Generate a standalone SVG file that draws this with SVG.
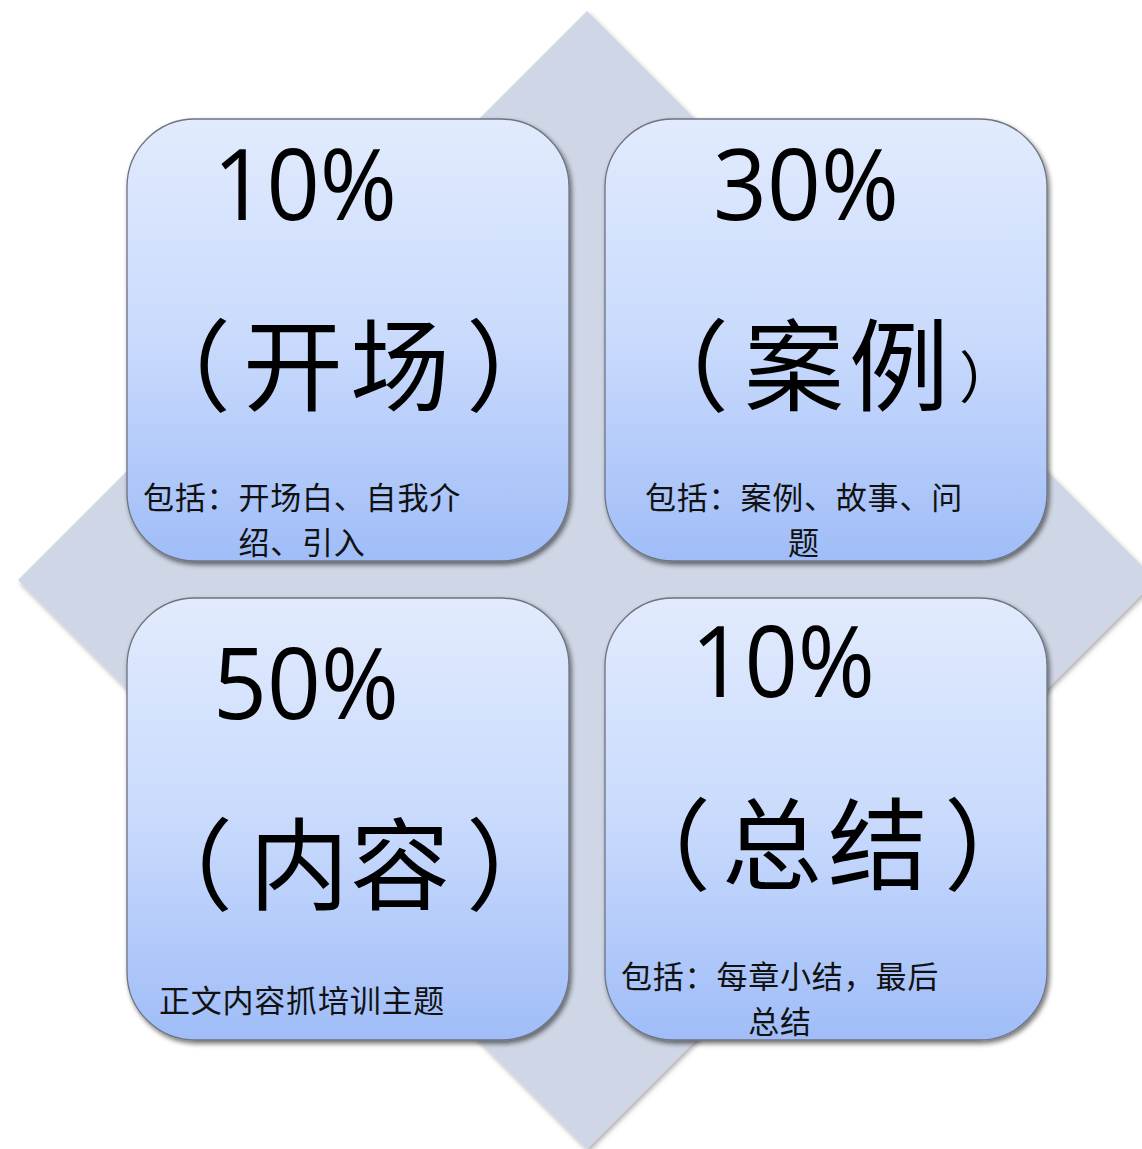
<svg xmlns="http://www.w3.org/2000/svg" width="1142" height="1149" viewBox="0 0 1142 1149">
<defs>
<linearGradient id="boxGrad" x1="0" y1="0" x2="0" y2="1">
<stop offset="0" stop-color="#e2ebfd"/>
<stop offset="0.5" stop-color="#c9dafc"/>
<stop offset="1" stop-color="#a0bdf8"/>
</linearGradient>
<filter id="boxShadow" x="-10%" y="-10%" width="120%" height="120%">
<feGaussianBlur in="SourceAlpha" stdDeviation="2.5"/>
<feOffset dx="2" dy="3" result="b"/>
<feComponentTransfer><feFuncA type="linear" slope="0.55"/></feComponentTransfer>
<feMerge><feMergeNode/><feMergeNode in="SourceGraphic"/></feMerge>
</filter>
<filter id="diaShadow" x="-10%" y="-10%" width="120%" height="120%">
<feGaussianBlur in="SourceAlpha" stdDeviation="2.5"/>
<feOffset dx="2" dy="3" result="b"/>
<feComponentTransfer><feFuncA type="linear" slope="0.3"/></feComponentTransfer>
<feMerge><feMergeNode/><feMergeNode in="SourceGraphic"/></feMerge>
</filter>
</defs>
<style>
.box{fill:url(#boxGrad);stroke:#6e7480;stroke-width:1.3;filter:url(#boxShadow)}
.pct{font-family:"Open Sans","Noto Sans",sans-serif;font-size:98px;fill:#000}
.big{font-family:"Noto Sans CJK SC","Noto Sans CJK JP",sans-serif;font-size:100px;fill:#000}
.small{font-family:"Noto Sans CJK SC","Noto Sans CJK JP",sans-serif;font-size:31px;letter-spacing:0.8px;fill:#111;text-anchor:middle}
</style>
<g id="background">
<polygon points="587,11 1156,580 587,1149 18,580" fill="#cfd6e5" filter="url(#diaShadow)"/>
</g>
<g id="node-opening">
<rect class="box" x="127" y="119" width="442" height="442" rx="68" ry="68"/>
<text class="pct" x="213" y="220" textLength="184" lengthAdjust="spacingAndGlyphs">10%</text>
<text class="big" y="403"><tspan x="131">（</tspan><tspan x="243">开</tspan><tspan x="350">场</tspan><tspan x="466">）</tspan></text>
<text class="small" x="302" y="509">包括：开场白、自我介</text>
<text class="small" x="302" y="554">绍、引入</text>
</g>
<g id="node-cases">
<rect class="box" x="605" y="119" width="442" height="442" rx="68" ry="68"/>
<text class="pct" x="713" y="220" textLength="186" lengthAdjust="spacingAndGlyphs">30%</text>
<text class="big" y="403"><tspan x="629">（</tspan><tspan x="744">案</tspan><tspan x="849">例</tspan><tspan x="959" dy="-5" font-size="56">）</tspan></text>
<text class="small" x="804" y="509">包括：案例、故事、问</text>
<text class="small" x="804" y="554">题</text>
</g>
<g id="node-content">
<rect class="box" x="127" y="598" width="442" height="442" rx="68" ry="68"/>
<text class="pct" x="213" y="719" textLength="186" lengthAdjust="spacingAndGlyphs">50%</text>
<text class="big" y="902"><tspan x="133">（</tspan><tspan x="249">内</tspan><tspan x="350">容</tspan><tspan x="466">）</tspan></text>
<text class="small" x="302" y="1012">正文内容抓培训主题</text>
</g>
<g id="node-summary">
<rect class="box" x="605" y="598" width="442" height="442" rx="68" ry="68"/>
<text class="pct" x="691" y="697" textLength="184" lengthAdjust="spacingAndGlyphs">10%</text>
<text class="big" y="882"><tspan x="611">（</tspan><tspan x="722">总</tspan><tspan x="828">结</tspan><tspan x="944">）</tspan></text>
<text class="small" x="780" y="988">包括：每章小结，最后</text>
<text class="small" x="780" y="1033">总结</text>
</g>
</svg>
